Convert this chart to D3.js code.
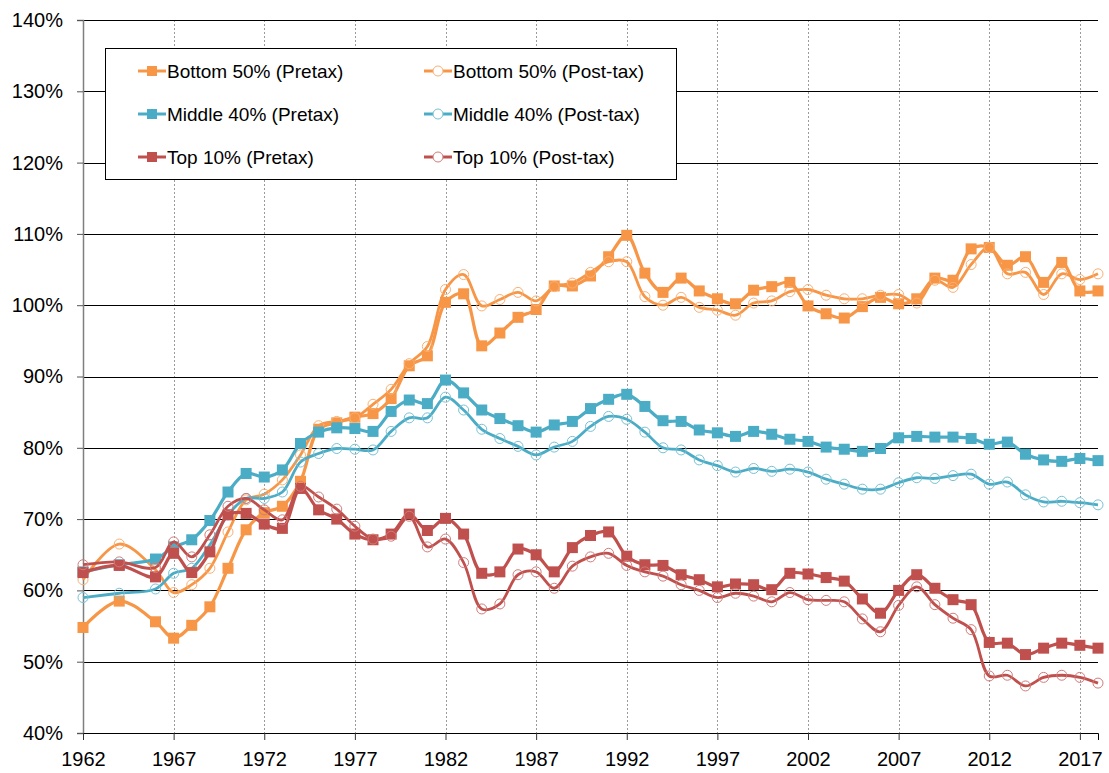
<!DOCTYPE html>
<html lang="en">

<head>
    <meta charset="UTF-8">
    <title>Income shares, pretax vs post-tax</title>
    <script src="https://d3js.org/d3.v7.min.js"></script>
    <style>
        body {
            margin: 0;
            background: #fff;
        }

        text {
            font-family: "Liberation Sans", Arial, sans-serif;
        }
    </style>
</head>

<body>
    <script>
        // years on the x axis (1963 and 1965 are missing in the source)
        const years = [1962, 1964, 1966, 1967, 1968, 1969, 1970, 1971, 1972, 1973, 1974, 1975, 1976, 1977,
            1978, 1979, 1980, 1981, 1982, 1983, 1984, 1985, 1986, 1987, 1988, 1989, 1990, 1991, 1992, 1993,
            1994, 1995, 1996, 1997, 1998, 1999, 2000, 2001, 2002, 2003, 2004, 2005, 2006, 2007, 2008, 2009,
            2010, 2011, 2012, 2013, 2014, 2015, 2016, 2017, 2018];

        const bottom50Pretax = [54.8, 58.5, 55.6, 53.3, 55.1, 57.7, 63.1, 68.5, 70.9, 71.8, 75.3, 82.6, 83.5, 84.3,
            84.8, 86.9, 91.5, 92.9, 100.4, 101.6, 94.3, 96.1, 98.3, 99.4, 102.7, 102.7, 104.1, 106.8, 109.8, 104.5,
            101.8, 103.8, 102.0, 100.9, 100.2, 102.1, 102.6, 103.2, 99.9, 98.8, 98.2, 99.8, 101.1, 100.2, 100.9, 103.8,
            103.5, 107.9, 108.1, 105.6, 106.8, 103.2, 106.0, 102.0, 102.0];
        const bottom50PostTax = [61.5, 66.5, 62.9, 59.7, 60.8, 63.1, 68.2, 72.7, 73.5, 75.5, 79.0, 83.1, 83.7, 84.2,
            86.1, 88.2, 91.8, 94.2, 102.2, 104.3, 99.9, 100.8, 101.8, 100.6, 102.6, 103.1, 104.6, 106.1, 106.1, 101.2,
            100.0, 101.1, 99.7, 99.3, 98.6, 100.3, 100.6, 101.9, 102.2, 101.4, 100.9, 100.9, 101.4, 101.5, 100.3, 103.5,
            102.5, 105.7, 108.1, 104.4, 104.6, 101.5, 104.4, 103.6, 104.4];
        const middle40Pretax = [62.6, 63.6, 64.4, 66.1, 67.1, 69.8, 73.8, 76.4, 75.9, 76.9, 80.6, 82.2, 82.8, 82.7,
            82.3, 85.1, 86.7, 86.2, 89.5, 87.7, 85.3, 84.1, 83.1, 82.2, 83.2, 83.7, 85.5, 86.8, 87.5, 85.8,
            83.8, 83.7, 82.5, 82.1, 81.6, 82.3, 81.9, 81.2, 80.9, 80.1, 79.8, 79.5, 79.9, 81.4, 81.6, 81.5,
            81.5, 81.3, 80.5, 80.8, 79.1, 78.3, 78.1, 78.5, 78.2];
        const middle40PostTax = [59.0, 59.6, 60.2, 62.4, 63.1, 66.4, 70.6, 72.9, 72.9, 73.8, 78.0, 79.2, 79.9, 79.8,
            79.7, 82.3, 84.2, 84.2, 87.1, 85.3, 82.6, 81.3, 80.2, 79.0, 80.1, 80.9, 83.0, 84.4, 84.0, 82.2,
            80.0, 79.7, 78.3, 77.5, 76.6, 77.1, 76.7, 77.0, 76.6, 75.6, 74.9, 74.2, 74.2, 75.1, 75.8, 75.7,
            76.1, 76.3, 74.9, 75.2, 73.4, 72.4, 72.5, 72.3, 72.0];
        const top10Pretax = [62.5, 63.5, 61.9, 65.2, 62.5, 65.4, 70.6, 70.8, 69.3, 68.7, 74.3, 71.3, 70.0, 67.9,
            67.1, 67.9, 70.7, 68.4, 70.1, 67.9, 62.4, 62.6, 65.8, 65.0, 62.6, 66.0, 67.7, 68.2, 64.8, 63.6,
            63.5, 62.2, 61.5, 60.5, 60.9, 60.8, 60.1, 62.4, 62.3, 61.8, 61.3, 58.8, 56.8, 60.0, 62.2, 60.3,
            58.7, 58.0, 52.7, 52.6, 51.0, 51.9, 52.6, 52.3, 51.9];
        const top10PostTax = [63.6, 64.0, 63.2, 66.8, 64.7, 67.8, 71.8, 72.9, 71.3, 69.9, 74.6, 73.1, 71.4, 69.0,
            67.2, 67.6, 70.4, 66.1, 67.2, 63.9, 57.4, 58.1, 62.2, 62.6, 60.3, 63.4, 64.7, 65.2, 63.5, 62.6,
            62.0, 60.8, 60.0, 59.0, 59.6, 59.2, 58.4, 59.7, 58.7, 58.6, 58.4, 56.0, 54.2, 57.9, 60.5, 58.0,
            56.1, 54.5, 48.0, 48.1, 46.6, 47.8, 48.1, 47.8, 47.0];

        const xTicks = [1962, 1967, 1972, 1977, 1982, 1987, 1992, 1997, 2002, 2007, 2012, 2017];
        const yTicks = [40, 50, 60, 70, 80, 90, 100, 110, 120, 130, 140];

        // series in drawing order, which is also the legend order (row by row)
        const series = [
            { name: "Bottom 50% (Pretax)", values: bottom50Pretax, color: "#F79646", marker: "square" },
            { name: "Bottom 50% (Post-tax)", values: bottom50PostTax, color: "#F79646", marker: "circle" },
            { name: "Middle 40% (Pretax)", values: middle40Pretax, color: "#4BACC6", marker: "square" },
            { name: "Middle 40% (Post-tax)", values: middle40PostTax, color: "#4BACC6", marker: "circle" },
            { name: "Top 10% (Pretax)", values: top10Pretax, color: "#C0504D", marker: "square" },
            { name: "Top 10% (Post-tax)", values: top10PostTax, color: "#C0504D", marker: "circle" }
        ];

        const width = 1109, height = 773;
        const margin = { top: 20, right: 11, bottom: 40, left: 83 };

        const svg = d3.select("body")
            .append("svg")
            .attr("width", width)
            .attr("height", height);

        const x = d3.scaleLinear()
            .domain([1962, 2018])
            .range([margin.left, width - margin.right]);

        const y = d3.scaleLinear()
            .domain([40, 140])
            .range([height - margin.bottom, margin.top]);

        // vertical dashed grid
        svg.append("g")
            .selectAll("line")
            .data(xTicks.slice(1))
            .join("line")
            .attr("x1", d => Math.round(x(d)) + 0.5)
            .attr("x2", d => Math.round(x(d)) + 0.5)
            .attr("y1", y(140))
            .attr("y2", y(40))
            .attr("stroke", "#9a9a9a")
            .attr("stroke-dasharray", "2,2");

        // horizontal grid
        svg.append("g")
            .selectAll("line")
            .data(yTicks.slice(1))
            .join("line")
            .attr("x1", x(1962))
            .attr("x2", x(2018))
            .attr("y1", d => Math.round(y(d)) + 0.5)
            .attr("y2", d => Math.round(y(d)) + 0.5)
            .attr("stroke", "#000")
            .attr("stroke-width", 1);

        // y axis
        const yAxis = svg.append("g")
            .attr("transform", `translate(${margin.left},0)`)
            .call(d3.axisLeft(y).tickValues(yTicks).tickFormat(d => d + "%").tickSize(6).tickPadding(14));
        yAxis.select(".domain").attr("stroke", "#7f7f7f").attr("stroke-width", 1.5);
        yAxis.selectAll(".tick line").attr("stroke", "#555");
        yAxis.selectAll("text")
            .attr("font-size", 20)
            .attr("fill", "#000")
            .attr("font-family", "'Liberation Sans', Arial, sans-serif");

        // x axis
        const xAxis = svg.append("g")
            .attr("transform", `translate(0,${height - margin.bottom})`)
            .call(d3.axisBottom(x).tickValues(xTicks).tickFormat(d3.format("d")).tickSize(7).tickPadding(12));
        xAxis.select(".domain").attr("stroke", "#000");
        xAxis.selectAll(".tick line").attr("stroke", "#333");
        xAxis.selectAll("text")
            .attr("font-size", 20)
            .attr("fill", "#000")
            .attr("font-family", "'Liberation Sans', Arial, sans-serif");

        const line = d3.line()
            .x((d, i) => x(years[i]))
            .y(d => y(d))
            .curve(d3.curveCatmullRom.alpha(0.5));

        // lighter outline for the open circles
        const light = c => d3.interpolateRgb(c, "#fff")(0.25);

        series.forEach(s => {
            const g = svg.append("g");
            g.append("path")
                .datum(s.values)
                .attr("fill", "none")
                .attr("stroke", s.color)
                .attr("stroke-width", s.marker === "square" ? 3.2 : 2.8)
                .attr("d", line);

            if (s.marker === "square") {
                g.selectAll("rect")
                    .data(s.values)
                    .join("rect")
                    .attr("x", (d, i) => x(years[i]) - 5.5)
                    .attr("y", d => y(d) - 5.5)
                    .attr("width", 11)
                    .attr("height", 11)
                    .attr("fill", s.color);
            } else {
                g.selectAll("circle")
                    .data(s.values)
                    .join("circle")
                    .attr("cx", (d, i) => x(years[i]))
                    .attr("cy", d => y(d))
                    .attr("r", 5)
                    .attr("fill", "none")
                    .attr("stroke", light(s.color))
                    .attr("stroke-width", 1);
            }
        });

        // legend
        const legend = svg.append("g");
        legend.append("rect")
            .attr("x", 105.5)
            .attr("y", 48.5)
            .attr("width", 571)
            .attr("height", 131)
            .attr("fill", "#fff")
            .attr("stroke", "#000");

        const colX = [138, 424];
        const rowY = [71, 114, 157];

        series.forEach((s, i) => {
            const lx = colX[i % 2], ly = rowY[Math.floor(i / 2)];
            const item = legend.append("g").attr("transform", `translate(${lx},${ly})`);
            item.append("line")
                .attr("x1", 0).attr("x2", 28)
                .attr("stroke", s.color)
                .attr("stroke-width", 3);
            if (s.marker === "square") {
                item.append("rect")
                    .attr("x", 9).attr("y", -5).attr("width", 10).attr("height", 10)
                    .attr("fill", s.color);
            } else {
                item.append("circle")
                    .attr("cx", 14).attr("r", 5)
                    .attr("fill", "#fff")
                    .attr("stroke", light(s.color));
            }
            item.append("text")
                .attr("x", 29)
                .attr("dy", "0.35em")
                .attr("font-size", 19)
                .text(s.name);
        });
    </script>
</body>

</html>
